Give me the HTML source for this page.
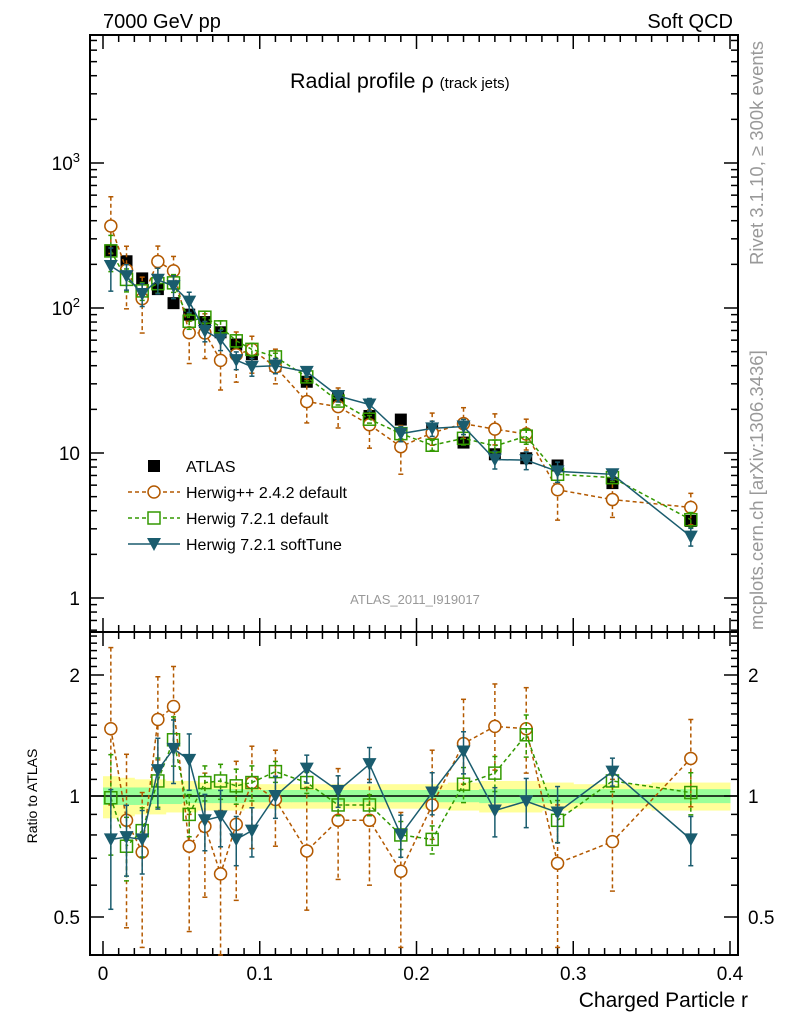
<!DOCTYPE html>
<html><head><meta charset="utf-8"><style>
body{margin:0;background:#fff}
svg{display:block;font-family:"Liberation Sans",sans-serif}
</style></head><body>
<svg id="c" width="786" height="1024" viewBox="0 0 786 1024">
<text x="103" y="28" font-size="20">7000 GeV pp</text>
<text x="733" y="28" font-size="20" text-anchor="end">Soft QCD</text>
<text x="290" y="88" font-size="21.5">Radial profile ρ <tspan font-size="15">(track jets)</tspan></text>
<text transform="translate(763,265) rotate(-90)" font-size="18.5" fill="#999">Rivet 3.1.10, ≥ 300k events</text>
<text transform="translate(763,630) rotate(-90)" font-size="18.5" fill="#999">mcplots.cern.ch [arXiv:1306.3436]</text>
<text x="415" y="604" font-size="13" fill="#999" text-anchor="middle">ATLAS_2011_I919017</text>
<text transform="translate(37,796) rotate(-90)" font-size="14" text-anchor="middle">Ratio to ATLAS</text>
<text x="748" y="1007" font-size="21" text-anchor="end">Charged Particle r</text>
<g id="g"></g>
</svg>
<script>
const xs=[0.005,0.015,0.025,0.035,0.045,0.055,0.065,0.075,0.085,0.095,0.11,0.13,0.15,0.17,0.19,0.21,0.23,0.25,0.27,0.29,0.325,0.375];
const binLo=[0,0.01,0.02,0.03,0.04,0.05,0.06,0.07,0.08,0.09,0.1,0.12,0.14,0.16,0.18,0.2,0.22,0.24,0.26,0.28,0.3,0.35];
const binHi=[0.01,0.02,0.03,0.04,0.05,0.06,0.07,0.08,0.09,0.1,0.12,0.14,0.16,0.18,0.2,0.22,0.24,0.26,0.28,0.3,0.35,0.4];
const atlas=[250,210,160,135,108,90,80,68,56,48,40,31,24,18,17,14.5,11.8,9.8,9.2,8.2,6.2,3.4];
const bandStat=[0.05,0.05,0.05,0.045,0.045,0.04,0.04,0.04,0.04,0.035,0.035,0.035,0.035,0.035,0.035,0.035,0.035,0.04,0.04,0.04,0.04,0.04];
const bandTot=[0.12,0.11,0.1,0.1,0.09,0.09,0.08,0.08,0.08,0.07,0.07,0.07,0.07,0.07,0.07,0.07,0.08,0.09,0.09,0.08,0.07,0.08];
const hppR=[1.47,0.87,0.725,1.55,1.67,0.75,0.84,0.64,0.85,1.08,0.98,0.73,0.87,0.87,0.65,0.95,1.35,1.49,1.47,0.68,0.77,1.24];
const hppUp=[2.34,1.27,1.02,1.98,2.1,0.9,1.14,0.92,1.22,1.33,1.3,1.05,1.17,1.1,0.91,1.3,1.74,1.9,1.86,0.95,1.1,1.55];
const hppDn=[0.95,0.47,0.42,1.23,1.33,0.46,0.56,0.4,0.55,0.74,0.75,0.52,0.62,0.6,0.42,0.78,1.07,1.16,1.14,0.42,0.58,0.94];
const h7R=[0.99,0.75,0.82,1.09,1.38,0.9,1.08,1.09,1.06,1.08,1.15,1.08,0.95,0.95,0.8,0.78,1.07,1.14,1.42,0.87,1.09,1.02];
const h7Err=[0.28,0.18,0.14,0.14,0.14,0.12,0.1,0.1,0.1,0.1,0.06,0.06,0.06,0.06,0.08,0.08,0.1,0.1,0.12,0.12,0.06,0.12];
const stR=[0.78,0.79,0.78,1.16,1.31,1.23,0.87,0.89,0.78,0.82,1.0,1.17,1.03,1.2,0.8,1.02,1.29,0.92,0.97,0.91,1.15,0.78];
const stErr=[0.33,0.2,0.18,0.2,0.18,0.16,0.16,0.16,0.14,0.14,0.12,0.08,0.09,0.1,0.12,0.12,0.12,0.14,0.14,0.16,0.08,0.14];
const majorX=[0,0.1,0.2,0.3,0.4];
const majorXLabels=["0","0.1","0.2","0.3","0.4"];
const decades=[1,10,100,1000];
const decadeLabels=["1","10","10²","10³"];
const ratioTicks=[0.5,1,2];
const ratioLabels=["0.5","1","2"];

const L=90,R=738,T=35,MB=632,RB=955;
const X=v=>103+v*1567.5;
const YM=v=>598-145*Math.log10(v);
const YR=v=>796-121*Math.log2(v);
const g=document.getElementById('g');
const NS='http://www.w3.org/2000/svg';
function el(t,a,p){const e=document.createElementNS(NS,t);for(const k in a)e.setAttribute(k,a[k]);(p||g).appendChild(e);return e;}
function line(x1,y1,x2,y2,st,w,d){return el('line',{x1,y1,x2,y2,stroke:st,'stroke-width':w||1,'stroke-dasharray':d||'none'});}

xs.forEach((x,i)=>{
  const b1=el('rect',{x:X(binLo[i]),y:YR(1+bandTot[i]),width:X(binHi[i])-X(binLo[i])+0.5,height:YR(1-bandTot[i])-YR(1+bandTot[i]),fill:'#ffff99'});
  
  
});
xs.forEach((x,i)=>{
  const b2=el('rect',{x:X(binLo[i]),y:YR(1+bandStat[i]),width:X(binHi[i])-X(binLo[i])+0.5,height:YR(1-bandStat[i])-YR(1+bandStat[i]),fill:'#99ff99'});
  
  
});
line(L,YR(1),R,YR(1),'#000',1.5);

const f1=el('rect',{x:L,y:T,width:R-L,height:MB-T,fill:'none',stroke:'#000','stroke-width':2});

const f2=el('rect',{x:L,y:MB,width:R-L,height:RB-MB,fill:'none',stroke:'#000','stroke-width':2});


for(let k=0;k<=40;k++){const v=k/100,x=X(v),maj=k%10==0,len=maj?14:7;
  [[T,1],[MB,-1],[MB,1],[RB,-1]].forEach(([y,s])=>line(x,y,x,y+s*len,'#000',1.5));}
majorX.forEach((v,i)=>{const t=el('text',{x:X(v),y:980,'font-size':19,'text-anchor':'middle'});t.textContent=majorXLabels[i];
  });
for(let d=0.1;d<10000;d*=10){for(let m=1;m<10;m++){const v=d*m,y=YM(v);if(y<T||y>MB)continue;const len=m==1?14:7;
  line(L,y,L+len,y,'#000',1.5);line(R,y,R-len,y,'#000',1.5);}}
decades.forEach((v,i)=>{const t=el('text',{x:80,y:YM(v)+7,'font-size':19,'text-anchor':'end'});
  if(decadeLabels[i].includes('²')||decadeLabels[i].includes('³')){t.textContent='10';const s=el('tspan',{dy:-8,'font-size':13},t);s.textContent=decadeLabels[i].endsWith('²')?'2':'3';}
  else t.textContent=decadeLabels[i];
  });
for(let k=4;k<=25;k++){const v=k/10,y=YR(v);if(y<MB||y>RB)continue;const maj=(k==5||k==10||k==20);const len=maj?14:7;
  line(L,y,L+len,y,'#000',1.5);line(R,y,R-len,y,'#000',1.5);}
ratioTicks.forEach((v,i)=>{[[80,'end'],[748,'start']].forEach(([x,a])=>{const t=el('text',{x,y:YR(v)+7,'font-size':19,'text-anchor':a});t.textContent=ratioLabels[i];
  });});

function clipY(y,top,bot){return Math.max(top,Math.min(bot,y));}
function series(vals,up,dn,color,dash,marker,name,Y,top,bot){
  const pts=xs.map((x,i)=>X(x)+','+clipY(Y(vals[i]),top,bot)).join(' ');
  const pl=el('polyline',{points:pts,fill:'none',stroke:color,'stroke-width':1.5,'stroke-dasharray':dash});
  
  xs.forEach((x,i)=>{const cx=X(x),y1=clipY(Y(up[i]),top,bot),y2=clipY(Y(dn[i]),top,bot);
    line(cx,y1,cx,y2,color,1.5,dash);line(cx-2.5,y1,cx+2.5,y1,color,1.5);line(cx-2.5,y2,cx+2.5,y2,color,1.5);
    const cy=Y(vals[i]);if(cy<top||cy>bot)return;let m;
    if(marker=='circle')m=el('circle',{cx,cy,r:6,fill:'#fff',stroke:color,'stroke-width':1.5});
    else if(marker=='square')m=el('rect',{x:cx-6,y:cy-6,width:12,height:12,fill:'none',stroke:color,'stroke-width':1.5});
    else m=el('polygon',{points:`${cx-7},${cy-6} ${cx+7},${cy-6} ${cx},${cy+7}`,fill:color});
    });
}
const C1='#b35900',C2='#339900',C3='#1a5c6e';
xs.forEach((x,i)=>{const m=el('rect',{x:X(x)-6,y:YM(atlas[i])-6,width:12,height:12,fill:'#000'});
  });
series(hppR.map((r,i)=>r*atlas[i]),hppUp.map((r,i)=>r*atlas[i]),hppDn.map((r,i)=>r*atlas[i]),C1,'4,3','circle','herwigpp-main',YM,T,MB);
series(h7R.map((r,i)=>r*atlas[i]),h7R.map((r,i)=>r*(1+h7Err[i])*atlas[i]),h7R.map((r,i)=>r*(1-h7Err[i])*atlas[i]),C2,'4,3','square','herwig7-main',YM,T,MB);
series(stR.map((r,i)=>r*atlas[i]),stR.map((r,i)=>r*(1+stErr[i])*atlas[i]),stR.map((r,i)=>r*(1-stErr[i])*atlas[i]),C3,'none','tri','softtune-main',YM,T,MB);
series(hppR,hppUp,hppDn,C1,'4,3','circle','herwigpp-ratio',YR,MB,RB);
series(h7R,h7R.map((r,i)=>r*(1+h7Err[i])),h7R.map((r,i)=>r*(1-h7Err[i])),C2,'4,3','square','herwig7-ratio',YR,MB,RB);
series(stR,stR.map((r,i)=>r*(1+stErr[i])),stR.map((r,i)=>r*(1-stErr[i])),C3,'none','tri','softtune-ratio',YR,MB,RB);

const leg=[['ATLAS','#000','none','fill'],['Herwig++ 2.4.2 default',C1,'4,3','circle'],['Herwig 7.2.1 default',C2,'4,3','square'],['Herwig 7.2.1 softTune',C3,'none','tri']];
const lg=el('g',{});
leg.forEach(([t,c,d,m],i)=>{const y=466+i*26,cx=154;
  if(m!='fill')el('line',{x1:128,y1:y,x2:180,y2:y,stroke:c,'stroke-width':1.5,'stroke-dasharray':d},lg);
  if(m=='fill')el('rect',{x:cx-6,y:y-6,width:12,height:12,fill:'#000'},lg);
  else if(m=='circle')el('circle',{cx,cy:y,r:6,fill:'#fff',stroke:c,'stroke-width':1.5},lg);
  else if(m=='square')el('rect',{x:cx-6,y:y-6,width:12,height:12,fill:'#fff',stroke:c,'stroke-width':1.5},lg);
  else el('polygon',{points:`${cx-7},${y-6} ${cx+7},${y-6} ${cx},${y+7}`,fill:c},lg);
  const tx=el('text',{x:186,y:y+6,'font-size':16},lg);tx.textContent=t;
  });
</script>
</body></html>
